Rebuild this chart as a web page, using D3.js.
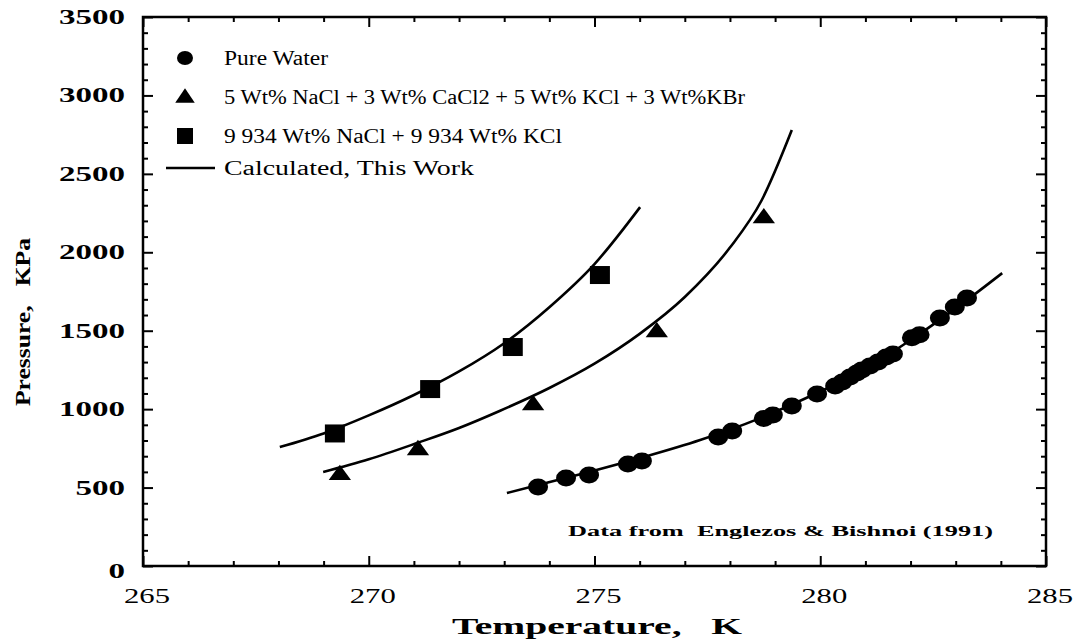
<!DOCTYPE html>
<html>
<head>
<meta charset="UTF-8">
<title>Hydrate equilibrium</title>
<script src="https://cdn.jsdelivr.net/npm/d3@7"></script>
<style>
	body { margin: 0; background: #fff; }
	text { font-family: "Liberation Serif", "DejaVu Serif", serif; fill: #000; }
</style>
</head>
<body>
<svg id="chart" width="1077" height="639"></svg>
<script>
// tick labels
var xTicks = [265, 270, 275, 280, 285];
var yTicks = [0, 500, 1000, 1500, 2000, 2500, 3000, 3500];

// pure water (circles)
var waterT = [273.75, 274.37, 274.88, 275.74, 276.05, 277.74, 278.05, 278.75, 278.95, 279.37, 279.93,
	280.33, 280.49, 280.66, 280.81, 280.92, 281.10, 281.28, 281.46, 281.61, 282.03, 282.20, 282.65, 282.98, 283.25];
var waterP = [503, 561, 580, 650, 669, 822, 860, 940, 962, 1020, 1096,
	1147, 1173, 1205, 1230, 1249, 1275, 1300, 1332, 1351, 1455, 1475, 1581, 1651, 1708];

// 5 Wt% NaCl + 3 Wt% CaCl2 + 5 Wt% KCl + 3 Wt% KBr (triangles)
var mixT = [269.36, 271.09, 273.64, 276.38, 278.75];
var mixP = [593, 752, 1039, 1504, 2230];

// 9.934 Wt% NaCl + 9.934 Wt% KCl (squares)
var saltT = [269.25, 271.36, 273.19, 275.12];
var saltP = [845, 1128, 1396, 1855];

// calculated curves
var waterCalcT = [273.06, 273.75, 274.88, 276.01, 277.34, 278.67, 279.93, 281.10, 282.10, 283.16, 284.03];
var waterCalcP = [465, 516, 599, 688, 803, 943, 1103, 1275, 1460, 1676, 1867];
var mixCalcT = [268.99, 270.0, 271.07, 272.0, 272.91, 274.0, 275.0, 276.0, 277.0, 278.0, 278.7, 279.37];
var mixCalcP = [599, 680, 784, 880, 990, 1135, 1290, 1480, 1715, 2030, 2330, 2779];
var saltCalcT = [268.03, 269, 270, 271, 272, 273, 274, 275, 276.01];
var saltCalcP = [758, 845, 960, 1090, 1240, 1420, 1650, 1925, 2288];

var legendLabels = ["Pure Water",
	"5 Wt% NaCl + 3 Wt% CaCl2 + 5 Wt% KCl + 3 Wt%KBr",
	"9 934 Wt% NaCl + 9 934 Wt% KCl",
	"Calculated, This Work"];

var svg = d3.select("#chart");
var pl = 143, pr = 1046, pt = 17, pb = 566;
var x = d3.scaleLinear().domain([265, 285]).range([pl, pr]);
var y = d3.scaleLinear().domain([0, 3500]).range([pb, pt]);

var xMinor = d3.range(265, 285.01, 1).filter(function (d) { return d % 5 !== 0; });
var yMinor = d3.range(0, 3500.01, 100).filter(function (d) { return d % 500 !== 0; });

function axisGroup(gen, tx, ty) {
	var g = svg.append("g").attr("transform", "translate(" + tx + "," + ty + ")").call(gen);
	g.select(".domain").remove();
	g.selectAll("text").remove();
	g.selectAll("line").attr("stroke", "#000").attr("stroke-width", 2);
	return g;
}
[[10, xTicks, yTicks], [5, xMinor, yMinor]].forEach(function (t) {
	axisGroup(d3.axisBottom(x).tickValues(t[1]).tickSize(-t[0]), 0, pb);
	axisGroup(d3.axisTop(x).tickValues(t[1]).tickSize(-t[0]), 0, pt);
	axisGroup(d3.axisLeft(y).tickValues(t[2]).tickSize(-t[0]), pl, 0);
	axisGroup(d3.axisRight(y).tickValues(t[2]).tickSize(-t[0]), pr, 0);
});

svg.append("rect")
	.attr("x", pl).attr("y", pt)
	.attr("width", pr - pl).attr("height", pb - pt)
	.attr("fill", "none").attr("stroke", "#000").attr("stroke-width", 2.5);

// tick labels
svg.selectAll(".ylab").data(yTicks).enter().append("text")
	.attr("class", "ylab")
	.attr("x", 125)
	.attr("y", function (d) { return y(d) + 7 + (d === 0 ? 5 : 0); })
	.attr("text-anchor", "end")
	.attr("font-size", 21).attr("font-weight", "bold")
	.attr("textLength", function (d) { return String(d).length * 16.5; })
	.attr("lengthAdjust", "spacingAndGlyphs")
	.text(function (d) { return d; });

svg.selectAll(".xlab").data(xTicks).enter().append("text")
	.attr("class", "xlab")
	.attr("x", function (d) { return x(d) + 4; })
	.attr("y", 603)
	.attr("text-anchor", "middle")
	.attr("font-size", 21)
	.attr("textLength", 46)
	.attr("lengthAdjust", "spacingAndGlyphs")
	.text(function (d) { return d; });

// axis titles
svg.append("text")
	.attr("x", 597).attr("y", 634)
	.attr("text-anchor", "middle")
	.attr("font-size", 23).attr("font-weight", "bold")
	.attr("textLength", 290).attr("lengthAdjust", "spacingAndGlyphs")
	.attr("xml:space", "preserve")
	.text("Temperature,   K");

svg.append("text")
	.attr("transform", "translate(30,322) rotate(-90)")
	.attr("text-anchor", "middle")
	.attr("font-size", 22).attr("font-weight", "bold")
	.attr("textLength", 168).attr("lengthAdjust", "spacingAndGlyphs")
	.attr("xml:space", "preserve")
	.text("Pressure,   KPa");

svg.append("text")
	.attr("x", 568).attr("y", 536)
	.attr("font-size", 14).attr("font-weight", "bold")
	.attr("textLength", 425).attr("lengthAdjust", "spacingAndGlyphs")
	.attr("xml:space", "preserve")
	.text("Data from  Englezos & Bishnoi (1991)");

// calculated lines
var line = d3.line()
	.x(function (d) { return x(d[0]); })
	.y(function (d) { return y(d[1]); })
	.curve(d3.curveMonotoneX);
[[waterCalcT, waterCalcP], [mixCalcT, mixCalcP], [saltCalcT, saltCalcP]].forEach(function (c) {
	svg.append("path")
		.datum(d3.zip(c[0], c[1]))
		.attr("d", line)
		.attr("fill", "none")
		.attr("stroke", "#000")
		.attr("stroke-width", 2.6);
});

// markers
svg.selectAll(".water").data(d3.zip(waterT, waterP)).enter().append("ellipse")
	.attr("class", "water")
	.attr("cx", function (d) { return x(d[0]); })
	.attr("cy", function (d) { return y(d[1]); })
	.attr("rx", 10).attr("ry", 8.5).attr("fill", "#000");

var tri = d3.symbol().type(d3.symbolTriangle).size(150);
svg.selectAll(".mix").data(d3.zip(mixT, mixP)).enter().append("path")
	.attr("class", "mix")
	.attr("d", tri)
	.attr("transform", function (d) { return "translate(" + x(d[0]) + "," + (y(d[1]) + 2) + ") scale(1.2,0.95)"; })
	.attr("fill", "#000");

svg.selectAll(".salt").data(d3.zip(saltT, saltP)).enter().append("rect")
	.attr("class", "salt")
	.attr("x", function (d) { return x(d[0]) - 10; })
	.attr("y", function (d) { return y(d[1]) - 9; })
	.attr("width", 20).attr("height", 18).attr("fill", "#000");

// legend
var lx = 185, tx = 224, rows = [58, 97, 136, 168];
var lg = svg.append("g");
lg.append("ellipse").attr("cx", lx).attr("cy", rows[0]).attr("rx", 8).attr("ry", 7);
lg.append("path").attr("d", tri).attr("transform", "translate(" + lx + "," + (rows[1] + 1) + ") scale(1.05,0.9)");
lg.append("rect").attr("x", lx - 8).attr("y", rows[2] - 8).attr("width", 16).attr("height", 16);
lg.append("line").attr("x1", lx - 19).attr("x2", lx + 30).attr("y1", rows[3]).attr("y2", rows[3])
	.attr("stroke", "#000").attr("stroke-width", 2.6);
var legendWidths = [104, 521, 338, 250];
lg.selectAll("text").data(legendLabels).enter().append("text")
	.attr("x", tx)
	.attr("y", function (d, i) { return rows[i] + 7; })
	.attr("font-size", 20)
	.attr("textLength", function (d, i) { return legendWidths[i]; })
	.attr("lengthAdjust", "spacingAndGlyphs")
	.text(function (d) { return d; });
</script>
</body>
</html>
